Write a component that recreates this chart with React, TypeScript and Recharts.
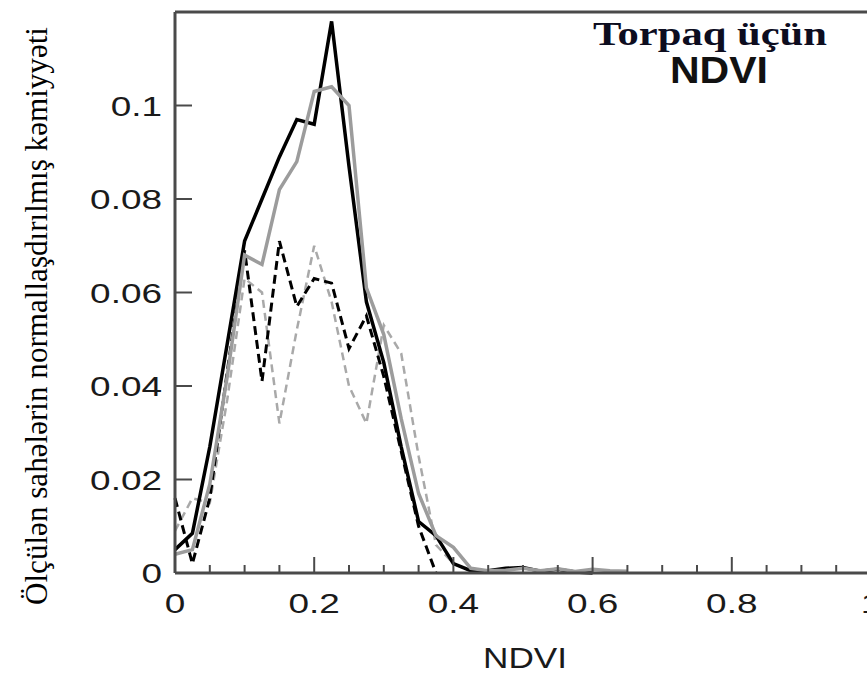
import { LineChart, Line, XAxis, YAxis } from "recharts"

// NDVI bins (step 0.025) and normalised counts
const ndvi = [
  0, 0.025, 0.05, 0.075, 0.1, 0.125, 0.15, 0.175, 0.2, 0.225, 0.25, 0.275, 0.3, 0.325,
  0.35, 0.375, 0.4, 0.425, 0.45, 0.475, 0.5, 0.525, 0.55, 0.575, 0.6, 0.625, 0.65,
]
const solidBlack = [
  0.005, 0.0085, 0.027, 0.049, 0.071, 0.08, 0.089, 0.097, 0.096, 0.118, 0.087, 0.058, 0.045,
  0.027, 0.011, 0.008, 0.002, 0.0005, 0.0005, 0.001, 0.0012, 0.0004, 0.0008, 0.0002, 0,
]
const solidGray = [
  0.004, 0.005, 0.019, 0.042, 0.068, 0.066, 0.082, 0.088, 0.103, 0.104, 0.1, 0.061, 0.051,
  0.033, 0.017, 0.008, 0.0055, 0.001, 0.0005, 0.0006, 0.001, 0.0005, 0.0009, 0.0003, 0.0008,
  0.0005, 0.0004,
]
const dashedBlack = [
  0.016, 0.002, 0.016, 0.043, 0.069, 0.041, 0.071, 0.057, 0.063, 0.062, 0.048, 0.055, 0.042,
  0.026, 0.01, 0,
]
const dashedGray = [
  0.009, 0.016, 0.015, 0.037, 0.063, 0.06, 0.032, 0.052, 0.07, 0.058, 0.04, 0.032, 0.053,
  0.047, 0.025, 0.006, 0.002, 0.0005, 0,
]

const xTicks = [
  0, 0.05, 0.1, 0.15, 0.2, 0.25, 0.3, 0.35, 0.4, 0.45, 0.5, 0.55, 0.6, 0.65, 0.7, 0.75, 0.8,
  0.85, 0.9, 0.95, 1,
]
const xLabelTicks = [0, 0.2, 0.4, 0.6, 0.8, 1]
const yTicks = [0, 0.02, 0.04, 0.06, 0.08, 0.1]

const data = ndvi.map((x, i) => ({
  x,
  solidBlack: solidBlack[i] ?? null,
  solidGray: solidGray[i] ?? null,
  dashedBlack: dashedBlack[i] ?? null,
  dashedGray: dashedGray[i] ?? null,
}))

const SANS = "'Liberation Sans', Arial, Helvetica, sans-serif"
const SERIF = "'Liberation Serif', 'Times New Roman', serif"
const AXIS = "#4a4a4a"
const X_GAP = 40
const Y_GAP = 13

function XTick({ x, y, payload }: any) {
  const axisY = y - X_GAP
  const major = xLabelTicks.includes(payload.value)
  return (
    <g>
      <line x1={x} x2={x} y1={axisY} y2={axisY - (major ? 16 : 8)} stroke={AXIS} strokeWidth={2} />
      {major && (
        <text
          transform={`translate(${x},${y}) scale(1.32,1)`}
          textAnchor="middle"
          fontFamily={SANS}
          fontSize={28}
          fill="#1a1a1a"
        >
          {String(payload.value)}
        </text>
      )}
    </g>
  )
}

function YTick({ x, y, payload }: any) {
  const axisX = x + Y_GAP
  return (
    <g>
      <line x1={axisX} x2={axisX + 17} y1={y} y2={y} stroke={AXIS} strokeWidth={2} />
      <text
        transform={`translate(${x},${y + 10}) scale(1.32,1)`}
        textAnchor="end"
        fontFamily={SANS}
        fontSize={28}
        fill="#1a1a1a"
      >
        {String(payload.value)}
      </text>
    </g>
  )
}

const xLabel = () => (
  <text
    x={525}
    y={668}
    textAnchor="middle"
    fontFamily={SANS}
    fontSize={29}
    textLength={84}
    lengthAdjust="spacingAndGlyphs"
    fill="#1a1a1a"
  >
    NDVI
  </text>
)

const yLabel = () => (
  <text
    transform="translate(47,316) rotate(-90)"
    textAnchor="middle"
    fontFamily={SERIF}
    fontSize={31}
    textLength={578}
    lengthAdjust="spacingAndGlyphs"
    fill="#000"
  >
    Ölçülən sahələrin normallaşdırılmış kəmiyyəti
  </text>
)

const title = () => (
  <g>
    <text
      x={710}
      y={45}
      textAnchor="middle"
      fontFamily={SERIF}
      fontWeight="bold"
      fontSize={34}
      textLength={234}
      lengthAdjust="spacingAndGlyphs"
      fill="#0d0d1f"
    >
      Torpaq üçün
    </text>
    <text
      x={719}
      y={83}
      textAnchor="middle"
      fontFamily={SANS}
      fontWeight="bold"
      fontSize={36}
      textLength={98}
      lengthAdjust="spacingAndGlyphs"
      fill="#111"
    >
      NDVI
    </text>
  </g>
)

export default function App() {
  return (
    <div
      style={{
        position: "fixed",
        left: 0,
        top: 0,
        width: 867,
        height: 673,
        overflow: "hidden",
        background: "#fff",
      }}
    >
      <LineChart width={900} height={673} data={data} margin={{ top: 11, right: 29, bottom: 0, left: 0 }}>
        <XAxis
          dataKey="x"
          type="number"
          domain={[0, 1]}
          ticks={xTicks}
          interval={0}
          tickSize={0}
          tickMargin={X_GAP}
          tickLine={false}
          tick={<XTick />}
          height={100}
          axisLine={{ stroke: AXIS, strokeWidth: 3 }}
          label={xLabel}
        />
        <XAxis
          xAxisId="top"
          orientation="top"
          dataKey="x"
          type="number"
          domain={[0, 1]}
          ticks={[0, 1]}
          height={1}
          tickSize={0}
          tick={false}
          tickLine={false}
          axisLine={{ stroke: AXIS, strokeWidth: 3 }}
          label={title}
        />
        <YAxis
          type="number"
          domain={[0, 0.12]}
          ticks={yTicks}
          interval={0}
          width={175}
          tickSize={0}
          tickMargin={Y_GAP}
          tickLine={false}
          tick={<YTick />}
          axisLine={{ stroke: AXIS, strokeWidth: 3 }}
          label={yLabel}
        />
        <Line
          dataKey="dashedGray"
          stroke="#a9a9a9"
          strokeWidth={2.5}
          strokeDasharray="8 5"
          dot={false}
          isAnimationActive={false}
        />
        <Line
          dataKey="dashedBlack"
          stroke="#000"
          strokeWidth={3}
          strokeDasharray="9 5"
          dot={false}
          isAnimationActive={false}
        />
        <Line dataKey="solidBlack" stroke="#000" strokeWidth={3.5} dot={false} isAnimationActive={false} />
        <Line dataKey="solidGray" stroke="#9c9c9c" strokeWidth={3.5} dot={false} isAnimationActive={false} />
      </LineChart>
    </div>
  )
}
